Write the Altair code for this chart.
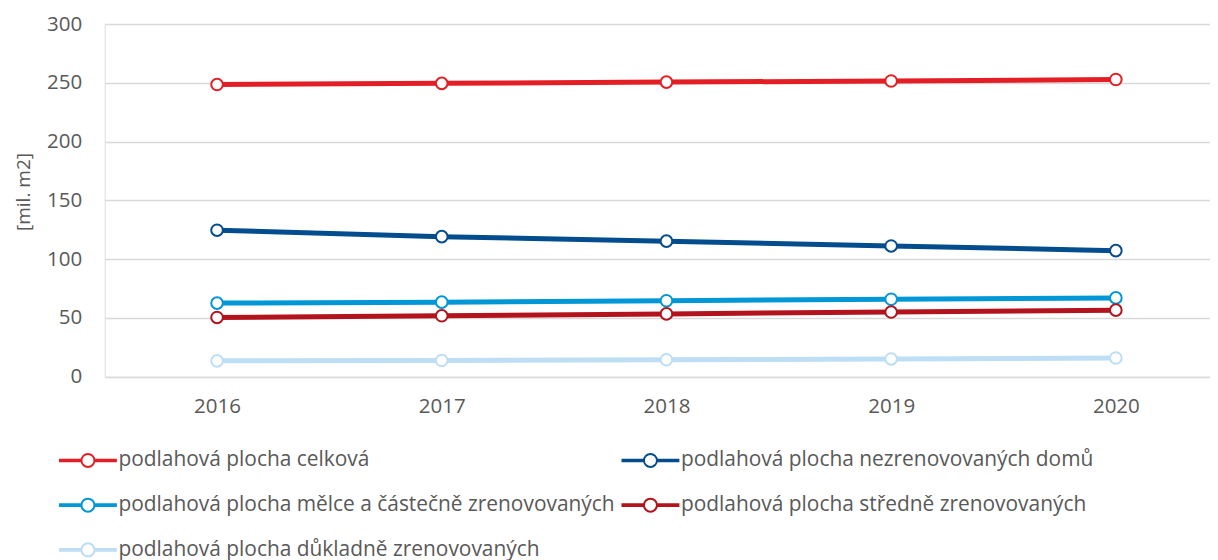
import altair as alt
import pandas as pd

years = [2016, 2017, 2018, 2019, 2020]
# order chosen so that the 2-column legend reads row by row like the reference
series_names = [
    "podlahová plocha celková",
    "podlahová plocha mělce a částečně zrenovovaných",
    "podlahová plocha důkladně zrenovovaných",
    "podlahová plocha nezrenovovaných domů",
    "podlahová plocha středně zrenovovaných",
]
celkova = [248.5, 249.5, 250.6, 251.5, 252.8]
melce = [62.6, 63.4, 64.6, 65.9, 67.0]
dukladne = [13.5, 13.8, 14.4, 15.1, 15.9]
nezrenovovanych = [124.6, 119.1, 115.3, 111.2, 107.2]
stredne = [50.4, 51.8, 53.4, 55.0, 56.6]
colors = ["#E31E25", "#0097D7", "#BDDEF4", "#034C8E", "#B3131D"]
y_ticks = [0, 50, 100, 150, 200, 250, 300]

values = [celkova, melce, dukladne, nezrenovovanych, stredne]
rows = []
for name, vals in zip(series_names, values):
    for yr, v in zip(years, vals):
        rows.append({"rok": yr, "serie": name, "hodnota": v})
df = pd.DataFrame(rows)

FONT = "Open Sans"
GREY = "#595959"

# layout (pixels)
PAD_L = 96.7
PAD_T = 16
TOTAL_W = 1202
W = TOTAL_W - PAD_L
H = 352.7
STEP = 224.7
x_domain = [2015.5, 2015.5 + W / STEP]

legend_symbol = (
    "M-4.3,-0.12L-1,-0.12L-1,0.12L-4.3,0.12Z "
    "M1,-0.12L4.3,-0.12L4.3,0.12L1,0.12Z "
    "M1,0A1,1,0,1,1,-1,0A1,1,0,1,1,1,0Z"
)

x_enc = alt.X(
    "rok:Q",
    scale=alt.Scale(domain=x_domain, nice=False, zero=False),
    axis=alt.Axis(
        values=years, format="d", title=None, grid=False, domain=False,
        ticks=False, labelPadding=20, labelFontSize=20.5, labelColor=GREY,
        labelFont=FONT, labelBaseline="top",
    ),
)
y_enc = alt.Y(
    "hodnota:Q",
    scale=alt.Scale(domain=[0, 300], nice=False),
    axis=alt.Axis(
        values=y_ticks, title="[mil. m2]", grid=True, gridColor="#D9D9D9",
        gridWidth=1.5, domain=False, ticks=False, labelPadding=23,
        labelFontSize=20.5, labelColor=GREY, labelFont=FONT,
        titleFont=FONT, titleFontSize=19, titleFontWeight="normal",
        titleColor=GREY, titleX=-81.7, titleY=167.5, titleAngle=270,
        titleBaseline="middle", titleAlign="center",
    ),
)

lines = alt.Chart(df).mark_line(strokeWidth=5).encode(
    x=x_enc,
    y=y_enc,
    color=alt.Color(
        "serie:N",
        scale=alt.Scale(domain=series_names, range=colors),
        legend=alt.Legend(
            title=None, orient="none", legendX=-27.2, legendY=426,
            columns=2, columnPadding=2.5, rowPadding=22.7,
            symbolType=legend_symbol, symbolSize=169, symbolStrokeWidth=2,
            symbolFillColor="white", labelOffset=20,
            labelFont=FONT, labelFontSize=20.9, labelColor=GREY,
            labelLimit=1000, padding=0,
        ),
    ),
    order=alt.Order("rok:Q"),
)

points = alt.Chart(df).mark_point(
    filled=False, fill="white", strokeWidth=2, size=135, opacity=1
).encode(
    x=alt.X("rok:Q"),
    y=alt.Y("hodnota:Q"),
    stroke=alt.Stroke(
        "serie:N",
        scale=alt.Scale(domain=series_names, range=colors),
        legend=None,
    ),
)

chart = (
    alt.layer(lines, points)
    .properties(
        width=W,
        height=H,
        autosize=alt.AutoSizeParams(type="none"),
        padding={"left": PAD_L, "top": PAD_T, "right": 0, "bottom": 552 - PAD_T - H},
    )
    .configure_view(stroke=None)
    .configure(font=FONT)
)

chart.save("out.html", embed_options={"renderer": "svg", "actions": False})
